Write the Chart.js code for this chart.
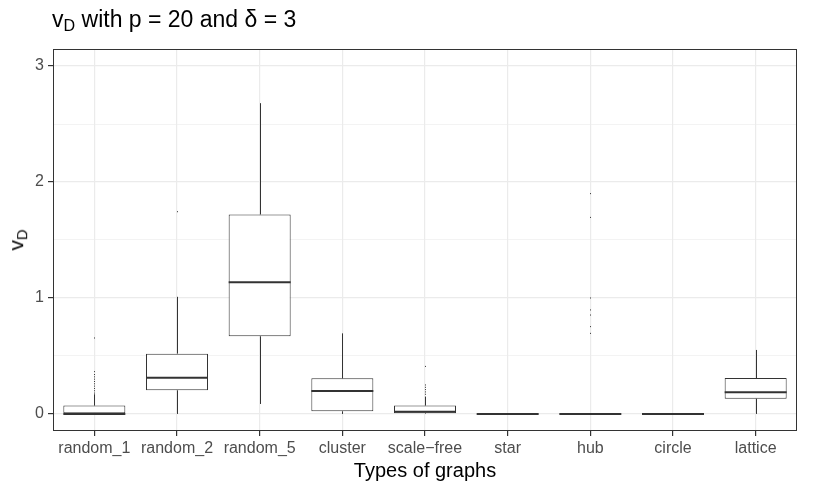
<!DOCTYPE html>
<html>
<head>
<meta charset="utf-8">
<script src="https://cdn.jsdelivr.net/npm/chart.js@4"></script>
<style>
  body { margin: 0; background: #fff; }
  #wrap { position: relative; width: 817px; height: 491px; font-family: "Liberation Sans", Arial, sans-serif; }
  #title { position: absolute; left: 52px; top: 6px; font-size: 23px; color: #000; white-space: nowrap; }
  #title sub, #ylab sub { font-size: 70%; vertical-align: -0.25em; }
  #ylab { position: absolute; left: 17px; top: 240px; font-size: 21px; color: #000;
          transform: translate(-50%, -50%) rotate(-90deg); white-space: nowrap; }
</style>
</head>
<body>
<div id="wrap">
  <canvas id="boxChart" width="817" height="491"></canvas>
  <div id="title">v<sub>D</sub> with p = 20 and δ = 3</div>
  <div id="ylab">v<sub>D</sub></div>
</div>
<script>
// graph types
var categories = ['random_1', 'random_2', 'random_5', 'cluster', 'scale\u2212free', 'star', 'hub', 'circle', 'lattice'];
// box stats
var lowWhisker = [0, 0, 0.086, 0, 0, 0, 0, 0, 0];
var q1 = [0, 0.204, 0.67, 0.023, 0.005, 0, 0, 0, 0.132];
var median = [0, 0.313, 1.135, 0.198, 0.02, 0, 0, 0, 0.187];
var q3 = [0.072, 0.52, 1.72, 0.307, 0.072, 0, 0, 0, 0.31];
var highWhisker = [0.17, 1.01, 2.68, 0.695, 0.15, 0, 0, 0, 0.552];
var outliers = [
  [0.18, 0.2, 0.22, 0.24, 0.26, 0.28, 0.3, 0.32, 0.34, 0.365, 0.655],
  [1.744],
  [],
  [],
  [0.17, 0.19, 0.21, 0.23, 0.25, 0.41],
  [],
  [1.9, 1.695, 1.0, 0.897, 0.853, 0.753, 0.695],
  [],
  []
];
var yTicks = [0, 0.5, 1, 1.5, 2, 2.5, 3];

var boxData = q1.map(function (v, i) { return [v, q3[i]]; });

var boxExtras = {
  id: 'boxExtras',
  beforeDatasetsDraw: function (chart) {
    var ctx = chart.ctx, x = chart.scales.x, y = chart.scales.y;
    ctx.save();
    ctx.strokeStyle = '#333333';
    ctx.lineWidth = 1;
    categories.forEach(function (c, i) {
      var px = Math.round(x.getPixelForValue(i)) + 0.5;
      ctx.beginPath();
      ctx.moveTo(px, y.getPixelForValue(q3[i]));
      ctx.lineTo(px, y.getPixelForValue(highWhisker[i]));
      ctx.moveTo(px, y.getPixelForValue(q1[i]));
      ctx.lineTo(px, y.getPixelForValue(lowWhisker[i]));
      ctx.stroke();
    });
    ctx.restore();
  },
  afterDatasetsDraw: function (chart) {
    var ctx = chart.ctx, x = chart.scales.x, y = chart.scales.y;
    var meta = chart.getDatasetMeta(0);
    ctx.save();
    ctx.strokeStyle = '#333333';
    ctx.fillStyle = '#333333';
    categories.forEach(function (c, i) {
      var bar = meta.data[i];
      var half = bar.width / 2;
      var py = y.getPixelForValue(median[i]);
      ctx.lineWidth = 2;
      ctx.beginPath();
      ctx.moveTo(bar.x - half, py);
      ctx.lineTo(bar.x + half, py);
      ctx.stroke();
      var px = Math.round(x.getPixelForValue(i));
      outliers[i].forEach(function (v) {
        ctx.fillRect(px, y.getPixelForValue(v) - 0.5, 1, 1);
      });
    });
    var a = chart.chartArea;
    ctx.lineWidth = 1;
    ctx.strokeRect(a.left + 0.5, a.top + 0.5, a.right - a.left - 1, a.bottom - a.top - 1);
    ctx.restore();
  }
};

var ctx = document.getElementById('boxChart').getContext('2d');
var myChart = new Chart(ctx, {
  type: 'bar',
  data: {
    labels: categories,
    datasets: [{
      data: boxData,
      backgroundColor: '#ffffff',
      borderColor: '#333333',
      borderWidth: 1,
      borderSkipped: false,
      barPercentage: 1,
      categoryPercentage: 0.75
    }]
  },
  options: {
    responsive: false,
    animation: false,
    layout: { padding: { top: 49, right: 20, left: 0, bottom: 0 } },
    plugins: {
      legend: { display: false },
      tooltip: { enabled: false }
    },
    scales: {
      x: {
        offset: true,
        border: { display: false },
        grid: {
          offset: false,
          color: '#EBEBEB',
          lineWidth: 1.2,
          tickColor: '#333333',
          tickLength: 5
        },
        ticks: {
          color: '#4D4D4D',
          padding: 3,
          maxRotation: 0,
          autoSkip: false,
          font: { family: '"Liberation Sans", Arial, sans-serif', size: 16 }
        },
        title: {
          display: true,
          text: 'Types of graphs',
          color: '#000000',
          padding: { top: 0, bottom: 8 },
          font: { family: '"Liberation Sans", Arial, sans-serif', size: 20 }
        },
        afterFit: function (scale) { scale.height = 60; }
      },
      y: {
        min: -0.147,
        max: 3.147,
        border: { display: false },
        afterBuildTicks: function (scale) {
          scale.ticks = yTicks.map(function (v) { return { value: v }; });
        },
        grid: {
          color: '#EBEBEB',
          lineWidth: function (c) { return c.tick && c.tick.value % 1 === 0 ? 1.2 : 0.6; },
          tickColor: function (c) { return c.tick && c.tick.value % 1 === 0 ? '#333333' : 'rgba(0,0,0,0)'; },
          tickLength: 5
        },
        ticks: {
          color: '#4D4D4D',
          padding: 4,
          font: { family: '"Liberation Sans", Arial, sans-serif', size: 16 },
          callback: function (v) { return v % 1 === 0 ? String(v) : ''; }
        },
        afterFit: function (scale) { scale.width = 53; }
      }
    }
  },
  plugins: [boxExtras]
});
</script>
</body>
</html>
